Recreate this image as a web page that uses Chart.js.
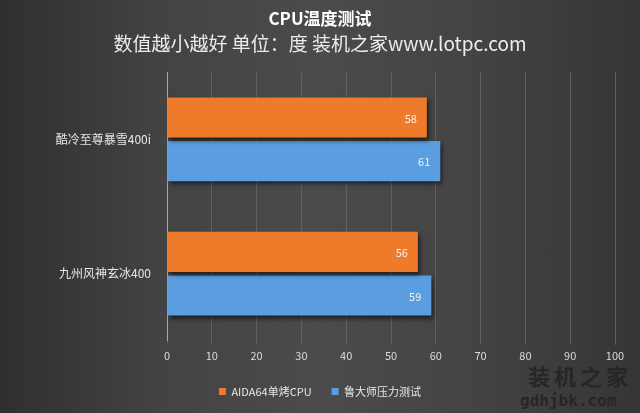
<!DOCTYPE html>
<html>
<head>
<meta charset="utf-8">
<script src="https://cdn.jsdelivr.net/npm/chart.js@4/dist/chart.umd.min.js"></script>
<style>
  html, body { margin: 0; padding: 0; }
  body {
    width: 640px; height: 413px; overflow: hidden; position: relative;
    background: linear-gradient(90deg, #2f2f2f 0%, #434343 25%, #4b4b4b 50%, #434343 75%, #353535 100%);
  }
  #wrap { position: absolute; left: 0; top: 0; width: 640px; height: 413px; }
  .wm { position: absolute; color: #262626; font-weight: bold; line-height: 1; }
</style>
</head>
<body>
<div class="wm" style="left:528px; top:364px; font-size:22px; letter-spacing:4px; font-family:'Noto Sans CJK SC';">装机之家</div>
<div class="wm" style="left:520px; top:393px; font-size:16px; font-family:'DejaVu Sans Mono', monospace;">gdhjbk.com</div>
<div id="wrap"><canvas id="chart" width="640" height="413"></canvas></div>
<script>
// 数据
const categories = ["酷冷至尊暴雪400i", "九州风神玄冰400"];
const aida64 = [58, 56];
const ludashi = [61, 59];
const seriesNames = ["AIDA64单烤CPU", "鲁大师压力测试"];
const xTicks = [0, 10, 20, 30, 40, 50, 60, 70, 80, 90, 100];

const cjk = '"Noto Sans CJK SC", "Noto Sans", sans-serif';

// shadow under bars + value labels
const barExtras = {
    id: "barExtras",
    beforeDatasetsDraw(chart) {
        const ctx = chart.ctx;
        ctx.save();
        ctx.shadowColor = "rgba(0,0,0,0.55)";
        ctx.shadowOffsetX = 2;
        ctx.shadowOffsetY = 3;
        ctx.shadowBlur = 4;
    },
    afterDatasetsDraw(chart) {
        const ctx = chart.ctx;
        ctx.restore();
        ctx.save();
        ctx.font = "11px " + cjk;
        ctx.fillStyle = "#f2f2f2";
        ctx.textAlign = "right";
        ctx.textBaseline = "middle";
        chart.data.datasets.forEach((ds, i) => {
            chart.getDatasetMeta(i).data.forEach((bar, j) => {
                ctx.fillText(ds.data[j], bar.x - 10, bar.y + 1);
            });
        });
        ctx.restore();
    }
};

new Chart(document.getElementById("chart"), {
    type: "bar",
    data: {
        labels: categories,
        datasets: [{
            label: seriesNames[0],
            data: aida64,
            backgroundColor: "#ee7a2a",
            categoryPercentage: 0.65,
            barPercentage: 0.92
        }, {
            label: seriesNames[1],
            data: ludashi,
            backgroundColor: "#5a9de0",
            categoryPercentage: 0.65,
            barPercentage: 0.92
        }]
    },
    options: {
        indexAxis: "y",
        responsive: false,
        animation: false,
        layout: { padding: { left: 25, right: 25, top: 0, bottom: 6 } },
        plugins: {
            title: {
                display: true,
                text: "CPU温度测试",
                color: "#ffffff",
                font: { family: cjk, size: 17, weight: "bold" },
                padding: { top: 8, bottom: 0 }
            },
            subtitle: {
                display: true,
                text: "数值越小越好 单位：度 装机之家www.lotpc.com",
                color: "#ececec",
                font: { family: cjk, size: 19 },
                padding: { top: 4, bottom: 17 }
            },
            legend: {
                position: "bottom",
                labels: {
                    color: "#e6e6e6",
                    boxWidth: 7,
                    boxHeight: 7,
                    padding: 20,
                    font: { family: cjk, size: 11 }
                }
            },
            tooltip: { enabled: false }
        },
        scales: {
            x: {
                min: 0,
                max: 100,
                afterBuildTicks(axis) { axis.ticks = xTicks.map(v => ({ value: v })); },
                grid: { color: "#5f5f5f", tickLength: 4, drawTicks: true },
                border: { display: false },
                ticks: { color: "#dcdcdc", font: { family: cjk, size: 11 }, padding: 4, maxRotation: 0 }
            },
            y: {
                afterFit(axis) { axis.width = 142; },
                grid: { display: false },
                border: { color: "#a8a8a8", width: 1 },
                ticks: { color: "#e6e6e6", font: { family: cjk, size: 12 }, padding: 8 }
            }
        }
    },
    plugins: [barExtras]
});
</script>
</body>
</html>
